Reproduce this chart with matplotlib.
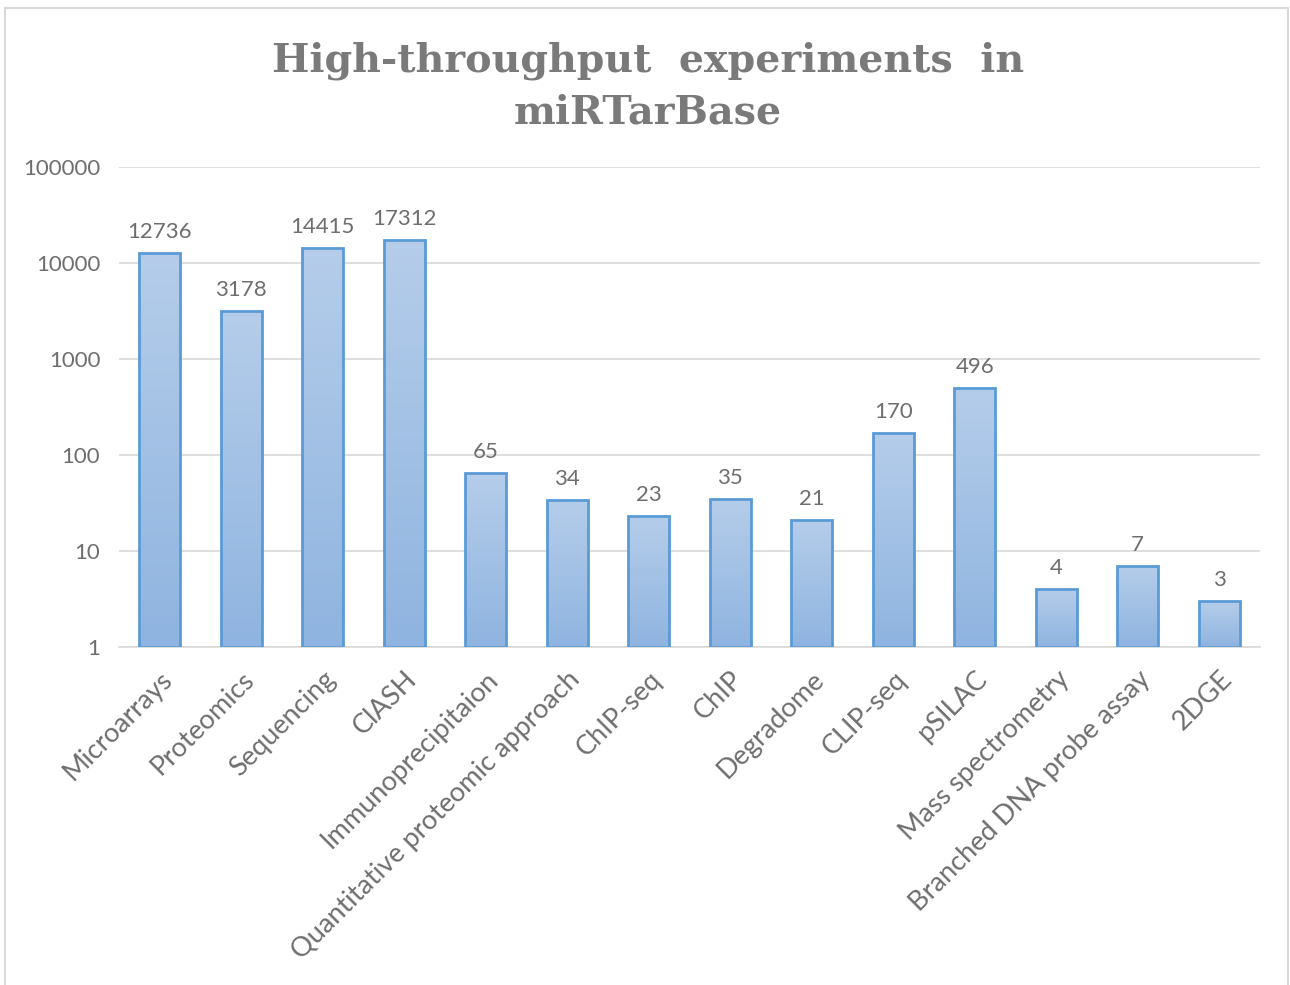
import numpy as np
import matplotlib
matplotlib.use("Agg")
import matplotlib.pyplot as plt
from matplotlib.patches import Rectangle
from matplotlib.colors import LinearSegmentedColormap

categories = ["Microarrays", "Proteomics", "Sequencing", "ClASH", "Immunoprecipitaion",
              "Quantitative proteomic approach", "ChIP-seq", "ChIP", "Degradome", "CLIP-seq",
              "pSILAC", "Mass spectrometry", "Branched DNA probe assay", "2DGE"]
values = [12736, 3178, 14415, 17312, 65, 34, 23, 35, 21, 170, 496, 4, 7, 3]
yticks = [1, 10, 100, 1000, 10000, 100000]
title = "High-throughput  experiments  in\nmiRTarBase"

W, H = 1290, 985
fig = plt.figure(figsize=(W / 100, H / 100), dpi=100)
fig.patch.set_facecolor("white")
txt_color = "#6e6e6e"

# chart border
fig.patches.append(Rectangle((5 / W, -0.02), (1288 - 5) / W, 1 - 8 / H + 0.02,
                             transform=fig.transFigure, fill=False,
                             edgecolor="#d9d9d9", linewidth=1.5))

ax = fig.add_axes([119 / W, 1 - 647 / H, (1260 - 119) / W, (647 - 167) / H])
ax.set_yscale("log")
ax.set_ylim(1, 100000)
ax.set_xlim(-0.5, len(categories) - 0.5)

x = np.arange(len(categories))
bars = ax.bar(x, [v - 1 for v in values], bottom=1, width=0.5,
              facecolor="none", edgecolor="#5b9bd5", linewidth=2, zorder=3)

cmap = LinearSegmentedColormap.from_list("g", ["#8fb4e0", "#b5cdea"])
grad = np.linspace(0, 1, 256).reshape(-1, 1)
to_axes = ax.transData + ax.transAxes.inverted()
for xi, v, b in zip(x, values, bars):
    x0, y0 = to_axes.transform((xi - 0.25, 1))
    x1, y1 = to_axes.transform((xi + 0.25, v))
    im = ax.imshow(grad, cmap=cmap, aspect="auto", origin="lower",
                   extent=(x0, x1, y0, y1), transform=ax.transAxes,
                   zorder=2, interpolation="bilinear")
    im.set_clip_path(b)
    ax.annotate(str(v), (xi, v), xytext=(0, 8), textcoords="offset points",
                ha="center", va="bottom", fontsize=16, color=txt_color,
                family="Lato")

ax.set_xlim(-0.5, len(categories) - 0.5)
ax.set_ylim(1, 100000)
ax.set_yticks(yticks)
ax.set_yticklabels([str(t) for t in yticks], fontsize=16, color=txt_color, family="Lato")
ax.yaxis.set_minor_locator(matplotlib.ticker.NullLocator())
ax.set_xticks(x)
ax.set_xticklabels(categories, rotation=45, ha="right", rotation_mode="anchor",
                   fontsize=19.5, color=txt_color, family="Lato")
ax.tick_params(axis="both", length=0)
ax.tick_params(axis="y", pad=13.5)
ax.tick_params(axis="x", pad=14)
ax.grid(axis="y", color="#d9d9d9", linewidth=1.2, zorder=0)
ax.set_axisbelow(True)
for s in ["top", "right", "left"]:
    ax.spines[s].set_visible(False)
ax.spines["bottom"].set_color("#d9d9d9")
ax.spines["bottom"].set_linewidth(1.2)

fig.text(648 / W, 1 - 41 / H, title, ha="center", va="top", fontsize=28.5,
         fontweight="bold", family="DejaVu Serif", color="#7a7a7a", linespacing=1.45)

fig.savefig("out.png", dpi=100)
